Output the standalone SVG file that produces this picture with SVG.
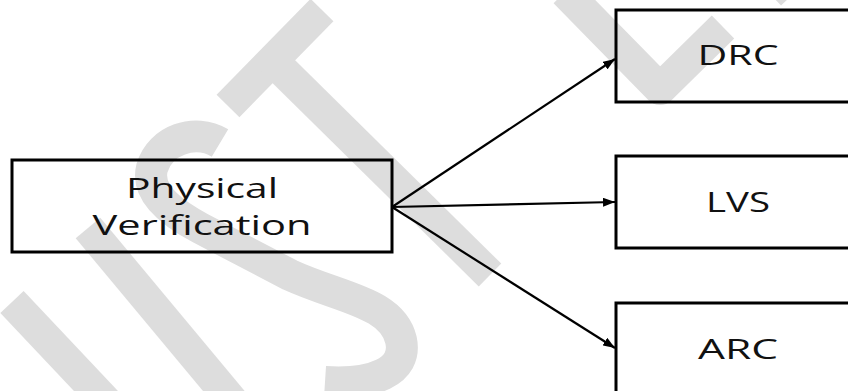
<svg xmlns="http://www.w3.org/2000/svg" width="848" height="391" viewBox="0 0 848 391">
  <defs>
    <marker id="arrowhead" markerUnits="userSpaceOnUse" markerWidth="13" markerHeight="9" refX="12" refY="4.5" orient="auto">
      <path d="M0,0 L12,4.5 L0,9 Z" fill="#000"/>
    </marker>
    <style>
      .wm { fill: none; stroke: #dddddd; stroke-width: 32; stroke-linejoin: round; stroke-linecap: butt; }
      .box { fill: none; stroke: #000; stroke-width: 3; }
      .label { font-family: "Open Sans", "Noto Sans", "Liberation Sans", sans-serif; font-size: 27px; fill: #111; text-anchor: middle; }
      .edge { fill: none; stroke: #000; stroke-width: 2.2; marker-end: url(#arrowhead); }
    </style>
  </defs>

  <rect x="0" y="0" width="848" height="391" fill="#fff"/>

  <!-- light grey background strokes -->
  <g id="watermark">
    <path class="wm" d="M12,302 L112,408"/>
    <path class="wm" d="M88,228 L238,408"/>
    <path class="wm" d="M220,143 C195,128 160,140 152,168 C146,192 170,212 200,228 L290,275 C340,298 392,302 401,340 C408,372 372,385 325,382"/>
    <path class="wm" d="M322,10 L228,106"/>
    <path class="wm" d="M272,60 L490,275"/>
    <path class="wm" d="M565,-8 L660,89 L723,27"/>
    <path class="wm" d="M792,-27 L770,-6"/>
  </g>

  <!-- connectors -->
  <g id="connectors">
    <line class="edge" x1="392" y1="207" x2="615" y2="59"/>
    <line class="edge" x1="392" y1="207" x2="615" y2="202"/>
    <line class="edge" x1="392" y1="207" x2="615" y2="348"/>
  </g>

  <g id="physical-verification">
    <rect class="box" x="12" y="160" width="380" height="92"/>
    <text class="label" x="202" y="198" textLength="152" lengthAdjust="spacingAndGlyphs">Physical</text>
    <text class="label" x="202" y="235" textLength="219" lengthAdjust="spacingAndGlyphs">Verification</text>
  </g>

  <g id="drc">
    <rect class="box" x="616" y="10" width="260" height="92"/>
    <text class="label" x="738" y="65" textLength="81" lengthAdjust="spacingAndGlyphs">DRC</text>
  </g>

  <g id="lvs">
    <rect class="box" x="616" y="156" width="260" height="92"/>
    <text class="label" x="738" y="212" textLength="64" lengthAdjust="spacingAndGlyphs">LVS</text>
  </g>

  <g id="arc">
    <rect class="box" x="616" y="303" width="260" height="92"/>
    <text class="label" x="738" y="359" textLength="80" lengthAdjust="spacingAndGlyphs">ARC</text>
  </g>
</svg>
